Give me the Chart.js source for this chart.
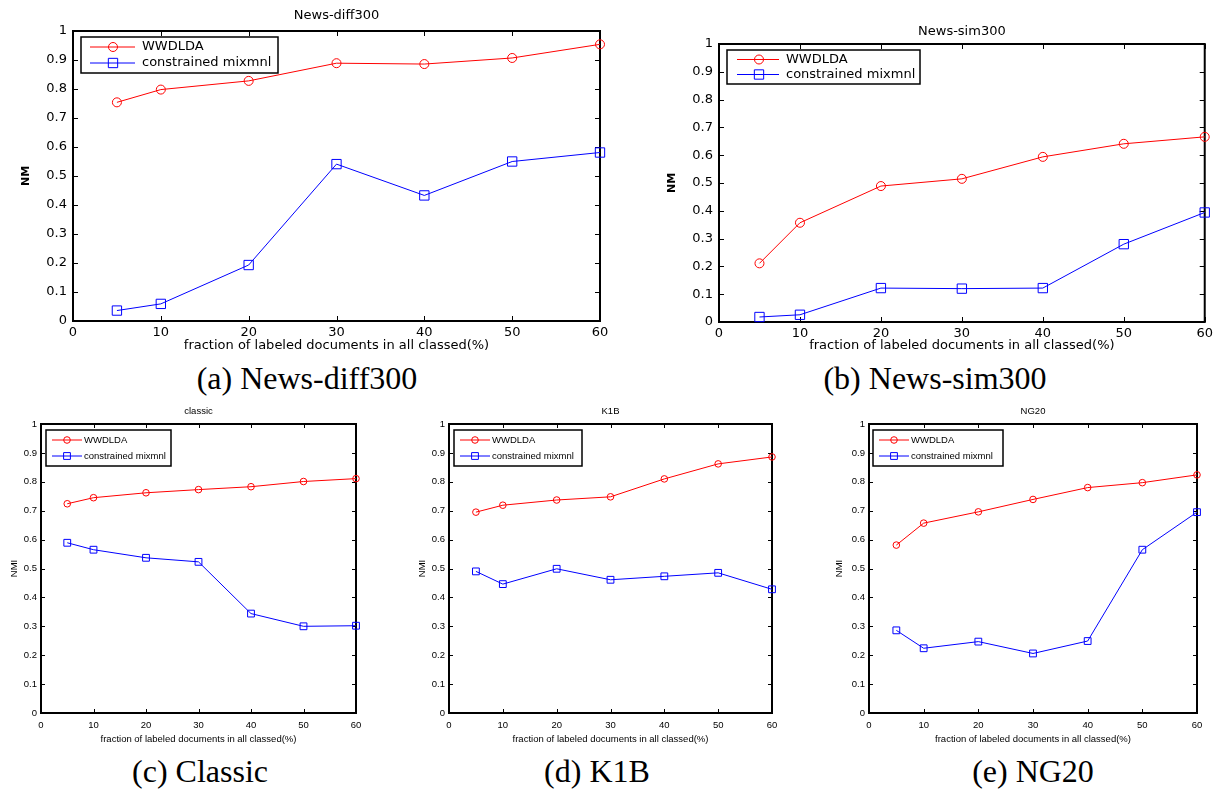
<!DOCTYPE html>
<html>
<head>
<meta charset="utf-8">
<script src="https://cdn.jsdelivr.net/npm/chart.js@4.4.1/dist/chart.umd.min.js"></script>
<style>
html,body{margin:0;padding:0;background:#fff;}
body{width:1217px;height:789px;position:relative;overflow:hidden;}
canvas{position:absolute;}
.cap{position:absolute;font-family:"Liberation Serif","Times New Roman",serif;font-size:32px;line-height:32px;color:#000;white-space:nowrap;transform:translateX(-50%);}
</style>
</head>
<body>
<canvas id="pa" width="620" height="355" style="left:0px;top:0px;width:620px;height:355px;"></canvas>
<canvas id="pb" width="597" height="355" style="left:620px;top:0px;width:597px;height:355px;"></canvas>
<canvas id="pc" width="405" height="352" style="left:0px;top:398px;width:405px;height:352px;"></canvas>
<canvas id="pd" width="425" height="352" style="left:405px;top:398px;width:425px;height:352px;"></canvas>
<canvas id="pe" width="387" height="352" style="left:830px;top:398px;width:387px;height:352px;"></canvas>
<div class="cap" style="left:307px;top:362px;">(a) News-diff300</div>
<div class="cap" style="left:935px;top:362px;">(b) News-sim300</div>
<div class="cap" style="left:200px;top:755px;">(c) Classic</div>
<div class="cap" style="left:597px;top:755px;">(d) K1B</div>
<div class="cap" style="left:1033px;top:755px;">(e) NG20</div>
<script>
// ---- data ----
const xValues = [5, 10, 20, 30, 40, 50, 60];
const xTicks = [0, 10, 20, 30, 40, 50, 60];
const yTicks = [0, 0.1, 0.2, 0.3, 0.4, 0.5, 0.6, 0.7, 0.8, 0.9, 1];
const seriesNames = ['WWDLDA', 'constrained mixmnl'];
const xLabel = 'fraction of labeled documents in all classed(%)';

const diff300_wwdlda = [0.754, 0.798, 0.828, 0.889, 0.886, 0.907, 0.954];
const diff300_mixmnl = [0.036, 0.059, 0.193, 0.541, 0.433, 0.550, 0.581];
const sim300_wwdlda  = [0.211, 0.357, 0.489, 0.515, 0.594, 0.641, 0.666];
const sim300_mixmnl  = [0.018, 0.026, 0.122, 0.120, 0.122, 0.280, 0.394];
const classic_wwdlda = [0.724, 0.745, 0.762, 0.773, 0.783, 0.801, 0.811];
const classic_mixmnl = [0.589, 0.565, 0.537, 0.523, 0.344, 0.300, 0.302];
const k1b_wwdlda     = [0.695, 0.719, 0.737, 0.748, 0.810, 0.862, 0.886];
const k1b_mixmnl     = [0.490, 0.446, 0.499, 0.461, 0.473, 0.485, 0.428];
const ng20_wwdlda    = [0.581, 0.657, 0.696, 0.739, 0.780, 0.797, 0.824];
const ng20_mixmnl    = [0.286, 0.224, 0.247, 0.206, 0.249, 0.565, 0.695];

// ---- MATLAB-style frame, inward ticks, title and legend ----
const matlabPlugin = {
  id: 'matlab',
  beforeDatasetsDraw(chart, args, o) {
    const {ctx, chartArea: a, scales: {x, y}} = chart;
    ctx.save();
    ctx.strokeStyle = '#000';
    ctx.lineWidth = 1;
    ctx.beginPath();
    x.ticks.forEach(t => {
      const px = Math.round(x.getPixelForValue(t.value)) + 0.5;
      ctx.moveTo(px, a.bottom); ctx.lineTo(px, a.bottom - o.tickLen);
      ctx.moveTo(px, a.top); ctx.lineTo(px, a.top + o.tickLen);
    });
    y.ticks.forEach(t => {
      const py = Math.round(y.getPixelForValue(t.value)) + 0.5;
      ctx.moveTo(a.left, py); ctx.lineTo(a.left + o.tickLen, py);
      ctx.moveTo(a.right, py); ctx.lineTo(a.right - o.tickLen, py);
    });
    ctx.stroke();
    ctx.lineWidth = o.frameWidth;
    ctx.strokeRect(a.left, a.top, a.right - a.left, a.bottom - a.top);
    ctx.fillStyle = '#000';
    ctx.font = o.font;
    ctx.textAlign = 'center';
    ctx.textBaseline = 'middle';
    ctx.fillText(o.title, (a.left + a.right) / 2, o.titleY);
    ctx.restore();
  },
  afterDatasetsDraw(chart, args, o) {
    const {ctx, chartArea: a} = chart;
    const L = o.legend;
    const bx = a.left + L.dx, by = a.top + L.dy;
    ctx.save();
    ctx.fillStyle = '#fff';
    ctx.fillRect(bx, by, L.w, L.h);
    ctx.strokeStyle = '#000';
    ctx.lineWidth = 1.5;
    ctx.strokeRect(bx, by, L.w, L.h);
    chart.data.datasets.forEach((ds, i) => {
      const ry = by + L.rows[i];
      ctx.strokeStyle = ds.borderColor;
      ctx.lineWidth = 1;
      ctx.beginPath();
      ctx.moveTo(bx + L.s0, ry); ctx.lineTo(bx + L.s1, ry);
      ctx.stroke();
      ctx.fillStyle = 'rgba(0,0,0,0)';
      Chart.helpers.drawPoint(ctx, {pointStyle: ds.pointStyle, rotation: 0, radius: ds.pointRadius, borderWidth: 1}, bx + L.m, ry);
      ctx.fillStyle = '#000';
      ctx.font = o.font;
      ctx.textAlign = 'left';
      ctx.textBaseline = 'middle';
      ctx.fillText(ds.label, bx + L.t, ry);
    });
    ctx.restore();
  }
};

function makePanel(id, s1, s2, c) {
  const tickFont = {family: c.family, size: c.size};
  new Chart(document.getElementById(id), {
    type: 'line',
    data: {
      datasets: [
        {label: seriesNames[0], data: xValues.map((v, i) => ({x: v, y: s1[i]})),
         borderColor: '#ff0000', backgroundColor: 'rgba(0,0,0,0)', borderWidth: 1,
         pointStyle: 'circle', pointRadius: c.cr, pointBorderWidth: 1,
         pointBackgroundColor: 'rgba(0,0,0,0)', pointBorderColor: '#ff0000', tension: 0, clip: false},
        {label: seriesNames[1], data: xValues.map((v, i) => ({x: v, y: s2[i]})),
         borderColor: '#0000ff', backgroundColor: 'rgba(0,0,0,0)', borderWidth: 1,
         pointStyle: 'rect', pointRadius: c.sr, pointBorderWidth: 1,
         pointBackgroundColor: 'rgba(0,0,0,0)', pointBorderColor: '#0000ff', tension: 0, clip: false}
      ]
    },
    options: {
      responsive: false, animation: false, events: [],
      layout: {padding: {left: 0, top: c.padTop, right: c.padRight, bottom: 0}},
      plugins: {
        legend: {display: false}, tooltip: {enabled: false}, title: {display: false},
        matlab: {title: c.title, titleY: c.titleY, font: c.size + 'px "' + c.family + '"',
                 tickLen: c.tickLen, frameWidth: 2, legend: c.legend}
      },
      scales: {
        x: {
          type: 'linear', min: 0, max: 60,
          afterBuildTicks: s => { s.ticks = xTicks.map(v => ({value: v})); },
          afterFit: s => { s.height = c.xh; },
          grid: {display: false, drawTicks: false}, border: {display: false},
          ticks: {color: '#000', font: tickFont, padding: c.xtp, maxRotation: 0, autoSkip: false,
                  callback: v => String(v)},
          title: {display: true, text: xLabel, color: '#000', font: tickFont, padding: {top: 0, bottom: c.xtpb}}
        },
        y: {
          type: 'linear', min: 0, max: 1,
          afterBuildTicks: s => { s.ticks = yTicks.map(v => ({value: v})); },
          afterFit: s => { s.width = c.yw; },
          grid: {display: false, drawTicks: false}, border: {display: false},
          ticks: {color: '#000', font: tickFont, padding: c.ytp, autoSkip: false,
                  callback: v => String(Number(v.toFixed(2)))},
          title: {display: true, text: c.ylabel, color: '#000',
                  font: {family: c.family, size: c.ysize, weight: c.yweight}, padding: {top: c.ytitlePad, bottom: 0}}
        }
      }
    },
    plugins: [matlabPlugin]
  });
}

const topStyle = {family: 'DejaVu Sans', size: 13, cr: 4.5, sr: 6.6, tickLen: 5, xtp: 4, ytp: 6,
                  ylabel: 'NM', ysize: 11, yweight: 'bold', xtpb: 2};
const botStyle = {family: 'Liberation Sans', size: 9.5, cr: 3.3, sr: 4.8, tickLen: 4, xtp: 7, ytp: 4,
                  ylabel: 'NMI', ysize: 9.5, yweight: 'normal', xtpb: 5};

makePanel('pa', diff300_wwdlda, diff300_mixmnl, Object.assign({}, topStyle, {
  title: 'News-diff300', titleY: 16, padTop: 31, padRight: 20, yw: 73, xh: 34, ytitlePad: 20,
  legend: {dx: 8, dy: 6, w: 197, h: 36, rows: [10, 26], s0: 9, s1: 54, m: 32, t: 61}}));
makePanel('pb', sim300_wwdlda, sim300_mixmnl, Object.assign({}, topStyle, {
  title: 'News-sim300', titleY: 32, padTop: 44, padRight: 9, yw: 99, xh: 33, ytitlePad: 46,
  legend: {dx: 8, dy: 6, w: 193, h: 34, rows: [9.5, 24.5], s0: 10, s1: 52, m: 32, t: 59}}));
makePanel('pc', classic_wwdlda, classic_mixmnl, Object.assign({}, botStyle, {
  title: 'classic', titleY: 13, padTop: 26, padRight: 49, yw: 41, xh: 37, ytitlePad: 9,
  legend: {dx: 5, dy: 6, w: 125, h: 36, rows: [10, 26], s0: 6, s1: 36, m: 21, t: 38}}));
makePanel('pd', k1b_wwdlda, k1b_mixmnl, Object.assign({}, botStyle, {
  title: 'K1B', titleY: 13, padTop: 26, padRight: 58, yw: 44, xh: 37, ytitlePad: 12,
  legend: {dx: 5, dy: 6, w: 128, h: 36, rows: [10, 26], s0: 6, s1: 36, m: 21, t: 38}}));
makePanel('pe', ng20_wwdlda, ng20_mixmnl, Object.assign({}, botStyle, {
  title: 'NG20', titleY: 13, padTop: 26, padRight: 20, yw: 39, xh: 37, ytitlePad: 4,
  legend: {dx: 4, dy: 6, w: 130, h: 36, rows: [10, 26], s0: 6, s1: 36, m: 21, t: 38}}));
</script>
</body>
</html>
